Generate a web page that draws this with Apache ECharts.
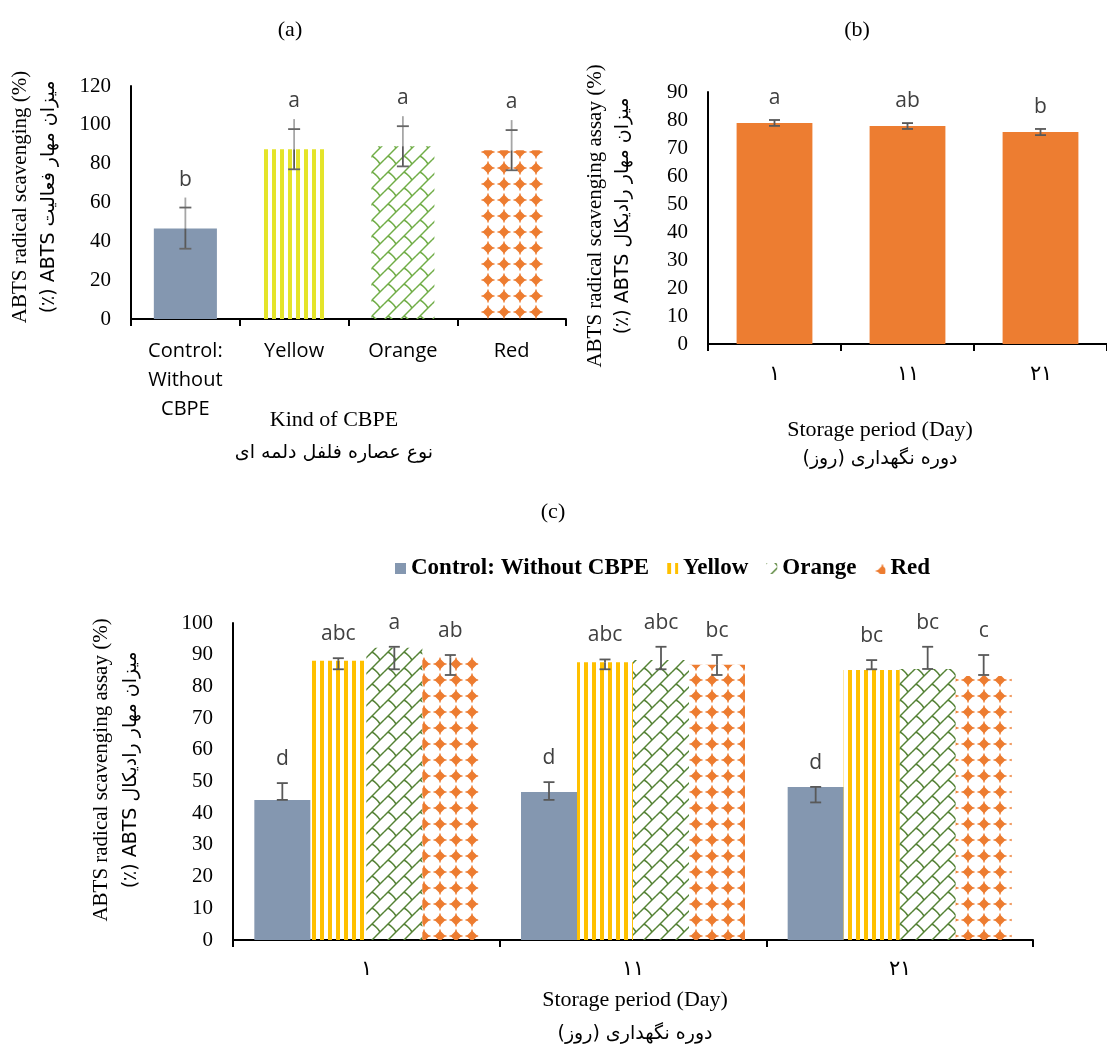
<!DOCTYPE html>
<html>
<head>
<meta charset="utf-8">
<script src="https://cdn.jsdelivr.net/npm/echarts@6/dist/echarts.min.js"></script>
<style>
  html, body { margin: 0; padding: 0; background: #fff; }
  #chart { width: 1107px; height: 1048px; }
</style>
</head>
<body>
<div id="chart"></div>
<script>
// (a) ABTS radical scavenging by kind of bell-pepper extract
const kindCategories = ['Control:\nWithout\nCBPE', 'Yellow', 'Orange', 'Red'];
const kindValues = [46.6, 87.4, 89.0, 86.9];
const kindErrLow = [36.2, 77.1, 78.6, 76.6];
const kindErrHigh = [57.4, 97.8, 99.3, 97.3];
const kindLetters = ['b', 'a', 'a', 'a'];

// (b) ABTS scavenging over the storage period
const dayLabels = ['۱', '۱۱', '۲۱'];
const storageValues = [78.9, 77.9, 75.7];
const storageErrLow = [77.9, 76.8, 74.6];
const storageErrHigh = [80.0, 78.9, 76.8];
const storageLetters = ['a', 'ab', 'b'];

// (c) extract x storage day
const seriesNames = ['Control: Without CBPE', 'Yellow', 'Orange', 'Red'];
const controlByDay = [44.2, 46.7, 48.3];
const controlErrLow = [44.2, 44.2, 43.4];
const controlErrHigh = [49.5, 49.8, 48.3];
const controlLetters = ['d', 'd', 'd'];
const yellowByDay = [88.1, 87.6, 85.2];
const yellowErrLow = [85.4, 85.4, 85.4];
const yellowErrHigh = [88.9, 88.5, 88.3];
const yellowLetters = ['abc', 'abc', 'bc'];
const orangeByDay = [92.2, 88.3, 85.5];
const orangeErrLow = [85.4, 85.4, 85.5];
const orangeErrHigh = [92.5, 92.5, 92.5];
const orangeLetters = ['a', 'abc', 'bc'];
const redByDay = [89.2, 86.8, 83.3];
const redErrLow = [83.6, 83.6, 83.6];
const redErrHigh = [89.9, 89.9, 89.9];
const redLetters = ['ab', 'bc', 'c'];

// ---------- fill patterns ----------
function makeTile(w, h, draw) {
  const c = document.createElement('canvas');
  c.width = w; c.height = h;
  draw(c.getContext('2d'));
  return c;
}
function stripeFill(color) {
  return { image: makeTile(8, 8, ctx => { ctx.fillStyle = color; ctx.fillRect(0, 0, 4, 8); }), repeat: 'repeat' };
}
// rising diagonal strokes joined by short falling links (shingle-like)
function shingleFill(color) {
  return { image: makeTile(16, 16, ctx => {
    ctx.strokeStyle = color;
    ctx.lineWidth = 1.5;
    for (let ox = -16; ox <= 16; ox += 16) {
      for (let oy = -16; oy <= 16; oy += 16) {
        ctx.beginPath();
        ctx.moveTo(ox, oy + 16); ctx.lineTo(ox + 16, oy);
        ctx.stroke();
        ctx.beginPath();
        ctx.moveTo(ox + 4, oy + 12);
        ctx.quadraticCurveTo(ox + 9, oy + 15, ox + 12, oy + 20);
        ctx.stroke();
      }
    }
  }), repeat: 'repeat' };
}
// separate diamonds with small pointed tips
function diamondFill(color) {
  return { image: makeTile(16, 16, ctx => {
    ctx.fillStyle = color;
    ctx.beginPath();
    ctx.moveTo(8, 2.5); ctx.lineTo(13.5, 8); ctx.lineTo(8, 13.5); ctx.lineTo(2.5, 8);
    ctx.closePath(); ctx.fill();
    ctx.fillRect(1.5, 7.3, 13, 1.4);
    ctx.fillRect(7.3, 1.5, 1.4, 13);
  }), repeat: 'repeat' };
}

const GRAY = '#8497B0';
const kindFills = [GRAY, stripeFill('#E4E42A'), shingleFill('#70AD47'), diamondFill('#ED7D31')];
const cFills = [GRAY, stripeFill('#FFC000'), shingleFill('#548235'), diamondFill('#ED7D31')];

// ---------- error bars with significance letters ----------
function seg(x1, y1, x2, y2, stroke, w) {
  return { type: 'line', shape: { x1, y1, x2, y2 }, style: { stroke, lineWidth: w || 1.8 } };
}
function errorSeries(axisIdx, rows, letters, opts) {
  return {
    type: 'custom', xAxisIndex: axisIdx, yAxisIndex: axisIdx, z: 5, silent: true,
    data: rows,
    renderItem: function (params, api) {
      const cat = api.value(0), v = api.value(1), lo = api.value(2), hi = api.value(3), slot = api.value(4);
      const band = api.size([1, 0])[0];
      const barW = band * (1 - opts.gap) / opts.n;
      const c = api.coord([cat, v]);
      const x = c[0] + (slot - (opts.n - 1) / 2) * barW;
      const yBar = c[1];
      const yLo = api.coord([cat, lo])[1];
      const yHi = api.coord([cat, hi])[1];
      const half = opts.cap / 2;
      const top = yHi - opts.overshoot;
      const kids = [];
      if (top < yBar) kids.push(seg(x, top, x, Math.min(yBar, yLo), opts.upper));
      if (yLo > yBar) kids.push(seg(x, Math.max(yBar, yHi), x, yLo, '#595959'));
      kids.push(seg(x - half, yHi, x + half, yHi, opts.capColor));
      kids.push(seg(x - half, yLo, x + half, yLo, opts.capColor));
      kids.push({
        type: 'text', x: x, y: yHi - opts.labelGap,
        style: { text: letters[params.dataIndex], fill: '#404040', font: '21px "Open Sans"', align: 'center', verticalAlign: 'middle' }
      });
      return { type: 'group', children: kids };
    }
  };
}

const kindRows = kindValues.map((v, i) => [i, v, kindErrLow[i], kindErrHigh[i], 0]);
const storageRows = storageValues.map((v, i) => [i, v, storageErrLow[i], storageErrHigh[i], 0]);
const cGroups = [
  [controlByDay, controlErrLow, controlErrHigh, controlLetters],
  [yellowByDay, yellowErrLow, yellowErrHigh, yellowLetters],
  [orangeByDay, orangeErrLow, orangeErrHigh, orangeLetters],
  [redByDay, redErrLow, redErrHigh, redLetters]
];
const cRows = [], cLetters = [];
cGroups.forEach((g, s) => g[0].forEach((v, d) => {
  cRows.push([d, v, g[1][d], g[2][d], s]);
  cLetters.push(g[3][d]);
}));

// ---------- axes ----------
const serif = '"Liberation Serif", "Times New Roman", serif';
function valueAxis(gridIndex, max, interval) {
  return {
    type: 'value', gridIndex, min: 0, max, interval,
    axisLine: { show: true, lineStyle: { color: '#000', width: 2 } },
    axisTick: { show: false },
    splitLine: { show: false },
    axisLabel: { color: '#000', fontFamily: serif, fontSize: 21, margin: 20 }
  };
}
function catAxis(gridIndex, data, label) {
  return {
    type: 'category', gridIndex, data,
    axisLine: { show: true, lineStyle: { color: '#000', width: 2 } },
    axisTick: { show: true, length: 7, lineStyle: { color: '#000', width: 2 } },
    axisLabel: Object.assign({ color: '#000', interval: 0 }, label)
  };
}

function txt(x, y, text, font, rot) {
  return {
    type: 'text', x, y, rotation: rot || 0,
    style: { text, font, fill: '#000', align: 'center', verticalAlign: 'middle' }
  };
}
const RLE = '\u202B', PDF = '\u202C';
const titleFont = '22px ' + serif;
const faFont = '19px "DejaVu Sans", sans-serif';

const chart = echarts.init(document.getElementById('chart'), null, { renderer: 'canvas' });
chart.setOption({
  animation: false,
  backgroundColor: '#fff',
  grid: [
    { left: 131, right: 541, top: 86, bottom: 729 },
    { left: 708, right: -12, top: 92, bottom: 704 },
    { left: 233, right: 74, top: 623, bottom: 108 }
  ],
  xAxis: [
    catAxis(0, kindCategories, { fontFamily: '"Open Sans"', fontSize: 20, lineHeight: 29, margin: 18 }),
    catAxis(1, dayLabels, { fontFamily: serif, fontSize: 21, margin: 20 }),
    catAxis(2, dayLabels, { fontFamily: serif, fontSize: 21, margin: 19 })
  ],
  yAxis: [valueAxis(0, 120, 20), valueAxis(1, 90, 10), valueAxis(2, 100, 10)],
  legend: {
    data: seriesNames, left: 390, top: 552, icon: 'rect', itemWidth: 11, itemHeight: 11, itemGap: 18,
    textStyle: { color: '#000', fontFamily: serif, fontWeight: 'bold', fontSize: 23 }
  },
  series: [
    {
      type: 'bar', xAxisIndex: 0, yAxisIndex: 0, barCategoryGap: '42%',
      data: kindValues.map((v, i) => ({ value: v, itemStyle: { color: kindFills[i] } }))
    },
    errorSeries(0, kindRows, kindLetters, { n: 1, gap: 0.42, cap: 12, overshoot: 10, upper: '#a6a6a6', capColor: '#666', labelGap: 28 }),
    {
      type: 'bar', xAxisIndex: 1, yAxisIndex: 1, barCategoryGap: '43%',
      itemStyle: { color: '#ED7D31' }, data: storageValues
    },
    errorSeries(1, storageRows, storageLetters, { n: 1, gap: 0.43, cap: 11, overshoot: 0, upper: '#595959', capColor: '#595959', labelGap: 22 }),
    ...seriesNames.map((name, s) => ({
      name, type: 'bar', xAxisIndex: 2, yAxisIndex: 2, barGap: '0%', barCategoryGap: '16%',
      itemStyle: { color: cFills[s] }, data: cGroups[s][0]
    })),
    errorSeries(2, cRows, cLetters, { n: 4, gap: 0.16, cap: 11, overshoot: 0, upper: '#595959', capColor: '#595959', labelGap: 24 })
  ],
  graphic: [
    txt(290, 30, '(a)', titleFont),
    txt(857, 30, '(b)', titleFont),
    txt(553, 512, '(c)', titleFont),
    // (a) axis titles
    txt(20, 197, 'ABTS radical scavenging (%)', '21px ' + serif, Math.PI / 2),
    txt(49, 197, RLE + 'میزان مهار فعالیت ABTS (٪)' + PDF, faFont, Math.PI / 2),
    txt(334, 420, 'Kind of CBPE', titleFont),
    txt(334, 453, 'نوع عصاره فلفل دلمه ای', faFont),
    // (b) axis titles
    txt(595, 216, 'ABTS radical scavenging assay (%)', '21px ' + serif, Math.PI / 2),
    txt(623, 216, RLE + 'میزان مهار رادیکال ABTS (٪)' + PDF, faFont, Math.PI / 2),
    txt(880, 430, 'Storage period (Day)', titleFont),
    txt(880, 459, RLE + 'دوره نگهداری (روز)' + PDF, faFont),
    // (c) axis titles
    txt(101, 770, 'ABTS radical scavenging assay (%)', '21px ' + serif, Math.PI / 2),
    txt(131, 770, RLE + 'میزان مهار رادیکال ABTS (٪)' + PDF, faFont, Math.PI / 2),
    txt(635, 1000, 'Storage period (Day)', titleFont),
    txt(635, 1034, RLE + 'دوره نگهداری (روز)' + PDF, faFont)
  ]
});
</script>
</body>
</html>
